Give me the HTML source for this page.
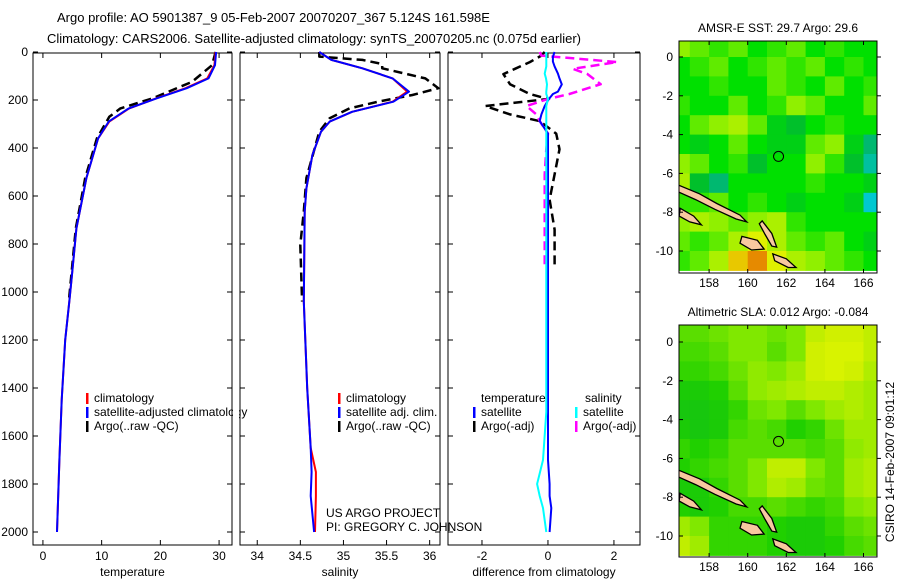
<!DOCTYPE html>
<html><head><meta charset="utf-8"><style>
body{margin:0;background:#fff;}
svg{display:block;font-family:"Liberation Sans",sans-serif;}
text{font-size:12px;fill:#000;}
</style></head><body>
<svg id="fig" width="900" height="580" viewBox="0 0 900 580" xmlns="http://www.w3.org/2000/svg">
<rect width="900" height="580" fill="#fff"/>
<text x="57" y="22" style="font-size:13px">Argo profile: AO 5901387_9 05-Feb-2007 20070207_367 5.124S 161.598E</text>
<text x="47" y="43" style="font-size:13px">Climatology: CARS2006. Satellite-adjusted climatology: synTS_20070205.nc (0.075d earlier)</text>
<g id="g"></g>
</svg>
<script>
// ---- profile data ----
const depthsClim = [0,55,110,151,193,235,290,360,525,735,940,1040,1200,1450,1700,1850,2000];
const tempClim   = [29.4,29.2,28.0,24.3,19.3,14.7,11.3,9.4,7.4,5.7,4.9,4.5,3.8,3.2,2.8,2.6,2.4];
const tempSat    = [29.5,29.3,28.2,24.5,19.4,14.6,11.2,9.4,7.4,5.7,4.9,4.5,3.8,3.2,2.8,2.6,2.4];
const depthsArgo = [0,55,124,193,235,270,360,525,735,940,1040];
const tempArgo   = [29.4,28.8,25.4,18.7,13.2,11.3,9.2,7.2,5.6,4.8,4.4];
const depthsSal  = [0,33,68,110,165,207,249,290,332,429,568,665,1040,1400,1650,1750,1850,2000];
const salClim    = [34.72,34.86,35.22,35.57,35.74,35.57,35.1,34.84,34.74,34.64,34.57,34.55,34.54,34.58,34.62,34.68,34.68,34.67];
const salSat     = [34.72,34.86,35.22,35.57,35.76,35.58,35.1,34.84,34.74,34.64,34.57,34.55,34.54,34.58,34.62,34.63,34.62,34.66];
const depthsArgoSal = [0,19,33,50,68,110,151,179,207,235,276,332,525,665,803,1040];
const salArgo    = [34.72,34.72,35.22,35.45,35.45,35.95,36.1,35.8,35.4,35.07,34.84,34.72,34.57,34.54,34.5,34.52];
const depthsDiff = [0,20,40,60,90,110,135,165,175,196,225,260,288,340,405,510,615,740,885,1000,1200,1500,1700,1800,1850,1900,2000];
const tDiffSat   = [0.2,0.15,0.15,0.2,0.3,0.35,0.42,0.3,0.15,0.03,-0.1,-0.2,-0.25,0,0,0,0,0,0,0,0,0,0,0.05,0.05,0.1,0.05];
const sDiffSat   = [-0.05,-0.05,-0.05,-0.05,-0.1,-0.06,-0.03,-0.05,-0.05,0,-0.05,-0.05,-0.05,-0.05,-0.05,-0.05,-0.05,-0.05,-0.05,-0.05,-0.05,-0.05,-0.15,-0.33,-0.25,-0.15,-0.05];
const depthsArgoDiff = [0,15,42,70,92,134,175,196,225,260,288,340,405,510,615,740,885];
const tDiffArgo  = [-0.1,-0.2,-0.55,-1.0,-1.35,-1.15,-0.55,0,-1.9,-1.15,-0.25,0.25,0.35,0.2,0.05,0.2,0.2];
const sDiffArgo  = [-0.25,-0.2,2.1,0.75,1.2,1.6,0.65,0,-0.65,-0.35,-0.25,0,-0.05,-0.1,-0.1,-0.1,-0.1];
// ---- map data (rows lat 0.5..-10.5, cols lon 156.5..166.5), normalised 0..1 ----
const sstGrid = [
[.65,.6,.55,.6,.5,.55,.6,.5,.55,.5,.5],
[.5,.55,.6,.5,.55,.6,.55,.6,.5,.55,.5],
[.5,.5,.55,.5,.5,.6,.55,.5,.6,.5,.55],
[.55,.5,.5,.6,.5,.55,.65,.6,.5,.5,.6],
[.5,.6,.65,.7,.6,.45,.4,.5,.55,.5,.5],
[.5,.45,.5,.6,.5,.45,.45,.6,.65,.45,.3],
[.65,.6,.5,.55,.4,.5,.5,.65,.55,.4,.25],
[.7,.4,.3,.5,.5,.5,.5,.55,.5,.5,.45],
[.55,.55,.6,.5,.55,.5,.45,.5,.5,.45,.2],
[.65,.7,.65,.6,.65,.7,.55,.5,.5,.5,.5],
[.6,.55,.6,.7,.8,.7,.6,.55,.6,.5,.45],
[.55,.6,.7,.85,.92,.8,.7,.65,.6,.55,.5]];
const slaGrid = [
[.5,.5,.55,.6,.6,.55,.6,.8,.85,.85,.8],
[.45,.45,.5,.6,.6,.5,.6,.85,.9,.9,.8],
[.4,.4,.45,.55,.65,.6,.7,.85,.9,.85,.75],
[.3,.3,.35,.5,.65,.7,.75,.8,.8,.75,.7],
[.25,.25,.3,.4,.55,.6,.5,.6,.7,.75,.7],
[.3,.25,.3,.45,.5,.45,.35,.4,.55,.7,.7],
[.4,.35,.4,.5,.5,.5,.5,.45,.5,.65,.7],
[.35,.4,.45,.5,.6,.8,.8,.6,.5,.7,.75],
[.3,.3,.4,.5,.6,.75,.7,.55,.5,.7,.75],
[.35,.3,.35,.45,.45,.5,.45,.4,.45,.6,.65],
[.7,.6,.4,.4,.4,.35,.3,.3,.4,.5,.55],
[.8,.7,.4,.4,.4,.35,.3,.3,.35,.45,.5]];
const islands = [
[[156.4,-6.6],[157.5,-7.05],[158.4,-7.55],[159.6,-8.15],[159.95,-8.5],[159.4,-8.35],[158.3,-7.85],[157.3,-7.35],[156.4,-6.95]],
[[159.7,-9.25],[160.5,-9.45],[160.85,-9.9],[160.2,-9.95],[159.6,-9.6]],
[[160.75,-8.45],[161.25,-9.1],[161.5,-9.8],[161.25,-9.75],[160.9,-9.15],[160.6,-8.6]],
[[161.3,-10.15],[162.0,-10.4],[162.5,-10.85],[162.1,-10.85],[161.4,-10.5]],
[[156.5,-7.8],[157.2,-8.2],[157.6,-8.65],[157.0,-8.5],[156.45,-8.2]]];
const argoPos = [161.598,-5.124];

const NS='http://www.w3.org/2000/svg';
const G=document.getElementById('g');
function el(t,a,p){const e=document.createElementNS(NS,t);for(const k in a)e.setAttribute(k,a[k]);(p||G).appendChild(e);return e;}
const yTop=53, yBot=545, depthScale=0.24;
function yD(d){return 52+d*depthScale;}

function panel(name,x0,x1,xmin,xmax,ticks,lab,xlabel,ylabels){
  const sx=v=>x0+(v-xmin)/(xmax-xmin)*(x1-x0);
  const b=el('rect',{x:x0,y:yTop,width:x1-x0,height:yBot-yTop,fill:'none',stroke:'#000','stroke-width':1});
  
  
  ticks.forEach((t,i)=>{
    const X=sx(t);
    el('line',{x1:X,x2:X,y1:yBot,y2:yBot-5,stroke:'#000'});
    el('line',{x1:X,x2:X,y1:yTop,y2:yTop+5,stroke:'#000'});
    const tx=el('text',{x:X,y:560,'text-anchor':'middle'});tx.textContent=lab[i];
    
    
  });
  for(let d=0;d<=2000;d+=200){
    const Y=yD(d);
    el('line',{x1:x0,x2:x0+5,y1:Y,y2:Y,stroke:'#000'});
    el('line',{x1:x1,x2:x1-5,y1:Y,y2:Y,stroke:'#000'});
    if(ylabels){const t=el('text',{x:x0-5,y:Y+4,'text-anchor':'end'});t.textContent=d;
      
      }
  }
  const xl=el('text',{x:(x0+x1)/2,y:576,'text-anchor':'middle'});xl.textContent=xlabel;
  
  
  return sx;
}
function line(sx,depths,vals,color,dash,name){
  const pts=vals.map((v,i)=>sx(v).toFixed(1)+','+yD(depths[i]).toFixed(1)).join(' ');
  const p=el('polyline',{points:pts,fill:'none',stroke:color,'stroke-width':dash?2.5:2,'stroke-dasharray':dash?'9,5':'none','stroke-linejoin':'round'});
  
  
}
function legend(x,y,color,label){
  el('rect',{x:x,y:y-9,width:2.5,height:11,fill:color});
  const t=el('text',{x:x+8,y:y});t.textContent=label;
  
  
}
function txt(x,y,s,name){const t=el('text',{x:x,y:y});t.textContent=s;
  
  }

// Temperature panel
const sT=panel('temperature-panel',33,232,-1.69,32.2,[0,10,20,30],['0','10','20','30'],'temperature',true);
line(sT,depthsArgo,tempArgo,'#000',true,'argo-temperature-line');
line(sT,depthsClim,tempClim,'#f00',false,'climatology-temperature-line');
line(sT,depthsClim,tempSat,'#00f',false,'satellite-temperature-line');
legend(86,402,'#f00','climatology');legend(86,416,'#00f','satellite-adjusted climatology');legend(86,430,'#000','Argo(..raw -QC)');
el('rect',{x:233,y:395,width:6,height:40,fill:'#fff'});
// Salinity panel
const sS=panel('salinity-panel',240,440,33.8,36.12,[34,34.5,35,35.5,36],['34','34.5','35','35.5','36'],'salinity',false);
line(sS,depthsArgoSal,salArgo,'#000',true,'argo-salinity-line');
line(sS,depthsSal,salClim,'#f00',false,'climatology-salinity-line');
line(sS,depthsSal,salSat,'#00f',false,'satellite-salinity-line');
legend(338,402,'#f00','climatology');legend(338,416,'#00f','satellite adj. clim.');legend(338,430,'#000','Argo(..raw -QC)');
txt(326,517,'US ARGO PROJECT','project-label');txt(326,531,'PI: GREGORY C. JOHNSON','pi-label');
// Difference panel
const sD=panel('difference-panel',448,640,-3.03,2.79,[-2,0,2],['-2','0','2'],'difference from climatology',false);
line(sD,depthsArgoDiff,tDiffArgo,'#000',true,'argo-temperature-diff-line');
line(sD,depthsArgoDiff,sDiffArgo,'#f0f',true,'argo-salinity-diff-line');
line(sD,depthsDiff,tDiffSat,'#00f',false,'satellite-temperature-diff-line');
line(sD,depthsDiff,sDiffSat,'#0ff',false,'satellite-salinity-diff-line');
txt(481,402,'temperature','legend-temperature-header');txt(585,402,'salinity','legend-salinity-header');
legend(473,416,'#00f','satellite');legend(473,430,'#000','Argo(-adj)');
legend(575,416,'#0ff','satellite');legend(575,430,'#f0f','Argo(-adj)');

// Maps
function ramp(stops,v){
  for(let i=1;i<stops.length;i++){if(v<=stops[i][0]||i==stops.length-1){
    const a=stops[i-1],b=stops[i];let f=(v-a[0])/(b[0]-a[0]);f=Math.max(0,Math.min(1,f));
    const c=[0,1,2].map(k=>Math.round(a[1][k]+(b[1][k]-a[1][k])*f));return 'rgb('+c.join(',')+')';}}
}
const sstStops=[[0,[0,64,192]],[0.2,[0,200,208]],[0.35,[0,176,64]],[0.5,[0,224,0]],[0.65,[144,240,0]],[0.8,[224,240,0]],[0.9,[240,160,0]],[1,[192,48,0]]];
const slaStops=[[0,[0,176,48]],[0.35,[32,208,0]],[0.6,[128,232,0]],[0.85,[208,240,0]],[1,[232,248,0]]];
function map(name,y0,y1,lat0y,grid,stops,title){
  const x0=679,x1=877,lonL=156.44,pxLon=19.3,pxLat=(y1===273?(251-57)/10:(536-342)/10);
  const sx=lon=>x0+(lon-lonL)*pxLon, sy=lat=>lat0y-lat*pxLat;
  const cid='clip-'+name;
  const cp=el('clipPath',{id:cid});el('rect',{x:x0,y:y0,width:x1-x0,height:y1-y0},cp);
  const g=el('g',{'clip-path':'url(#'+cid+')'});
  
  
  grid.forEach((row,r)=>row.forEach((v,c)=>{
    const lat=0.5-r, lon=156.5+c;
    const cell=el('rect',{x:sx(lon-0.5),y:sy(lat+0.5),width:pxLon+0.5,height:pxLat+0.5,fill:ramp(stops,v)},g);
    
    
  }));
  islands.forEach(isl=>{
    const p=el('polygon',{points:isl.map(q=>sx(q[0]).toFixed(1)+','+sy(q[1]).toFixed(1)).join(' '),fill:'#f8c8a0',stroke:'#000','stroke-width':1.3},g);
    
    
  });
  const c=el('circle',{cx:sx(argoPos[0]),cy:sy(argoPos[1]),r:5,fill:'none',stroke:'#000','stroke-width':1});
  
  
  const f=el('rect',{x:x0,y:y0,width:x1-x0,height:y1-y0,fill:'none',stroke:'#000'});
  
  
  [158,160,162,164,166].forEach(lon=>{const X=sx(lon);
    el('line',{x1:X,x2:X,y1:y1,y2:y1-4,stroke:'#000'});el('line',{x1:X,x2:X,y1:y0,y2:y0+4,stroke:'#000'});
    const t=el('text',{x:X,y:y1+14,'text-anchor':'middle'});t.textContent=lon;
    
    });
  [0,-2,-4,-6,-8,-10].forEach(lat=>{const Y=sy(lat);
    el('line',{x1:x0,x2:x0+4,y1:Y,y2:Y,stroke:'#000'});el('line',{x1:x1,x2:x1+4,y1:Y,y2:Y,stroke:'#000'});
    const t=el('text',{x:x0-6,y:Y+4,'text-anchor':'end'});t.textContent=lat;
    
    });
  const tt=el('text',{x:(x0+x1)/2,y:y0-9,'text-anchor':'middle'});tt.textContent=title;
  
  
}
map('sst-map',41,273,57,sstGrid,sstStops,'AMSR-E SST: 29.7 Argo: 29.6');
map('sla-map',325,557,342,slaGrid,slaStops,'Altimetric SLA: 0.012 Argo: -0.084');
const v=el('text',{x:894,y:462,'text-anchor':'middle',transform:'rotate(-90 894 462)'});v.textContent='CSIRO 14-Feb-2007 09:01:12';


</script>
</body></html>
